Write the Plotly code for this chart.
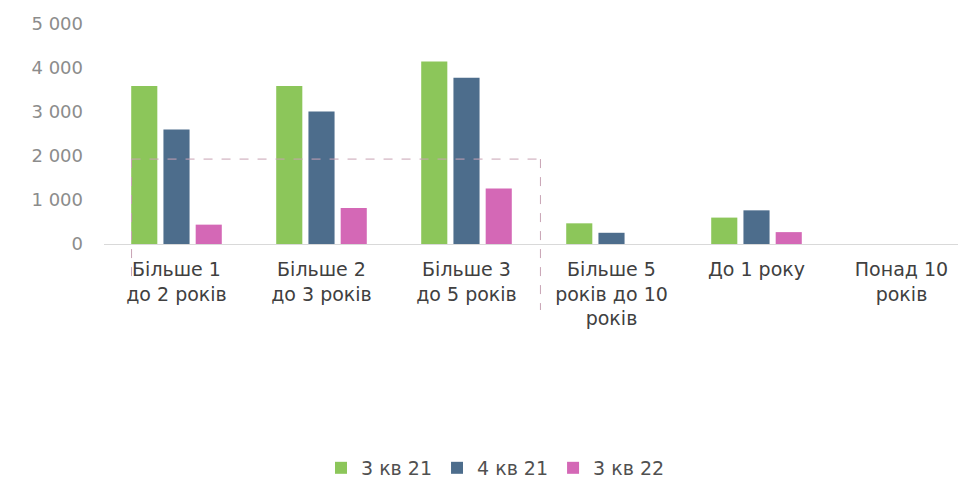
import plotly.graph_objects as go

categories = [
    "Більше 1<br>до 2 років",
    "Більше 2<br>до 3 років",
    "Більше 3<br>до 5 років",
    "Більше 5<br>років до 10<br>років",
    "До 1 року",
    "Понад 10<br>років",
]
series_names = ["3 кв 21", "4 кв 21", "3 кв 22"]
q3_21 = [3590, 3590, 4150, 470, 600, 0]
q4_21 = [2600, 3010, 3780, 255, 765, 0]
q3_22 = [440, 820, 1260, 0, 270, 0]
colors = ["#8cc65a", "#4d6d8c", "#d468b6"]

fig = go.Figure()
for name, vals, col in zip(series_names, [q3_21, q4_21, q3_22], colors):
    fig.add_trace(go.Bar(name=name, x=categories, y=vals, marker_color=col,
                         marker_line_width=0))

# dashed highlight frame around the first three groups
dash = dict(color="#c8a3b4", width=1, dash="dash")
fig.add_shape(type="line", xref="x", yref="y", x0=-0.31, x1=2.51, y0=1930, y1=1930, line=dash)
fig.add_shape(type="line", xref="x", yref="paper", x0=-0.31, x1=-0.31, y0=0.386, y1=-0.15, line=dash)
fig.add_shape(type="line", xref="x", yref="paper", x0=2.51, x1=2.51, y0=0.386, y1=-0.3, line=dash)

fig.update_layout(
    width=966, height=480,
    margin=dict(l=96, r=0, t=16, b=244),
    paper_bgcolor="white", plot_bgcolor="white",
    barmode="group", bargap=0.333, bargroupgap=0.19,
    separators=", ",
    font=dict(family="DejaVu Sans, Liberation Sans, sans-serif", size=17, color="#404040"),
    xaxis=dict(showline=True, linecolor="#d9d9d9", linewidth=1, ticks="",
               tickfont=dict(size=19, color="#404040"), ticklabelstandoff=8),
    yaxis=dict(range=[0, 5000], dtick=1000, tickformat=",d", showgrid=False,
               zeroline=False, tickfont=dict(size=18, color="#8c8c8c"),
               ticklabelstandoff=20),
    legend=dict(orientation="h", yref="paper", y=-1.018, yanchor="middle",
                x=0.45, xanchor="center",
                font=dict(size=19, color="#505050"), itemwidth=30),
    showlegend=True,
)

fig.write_html("out.html")
